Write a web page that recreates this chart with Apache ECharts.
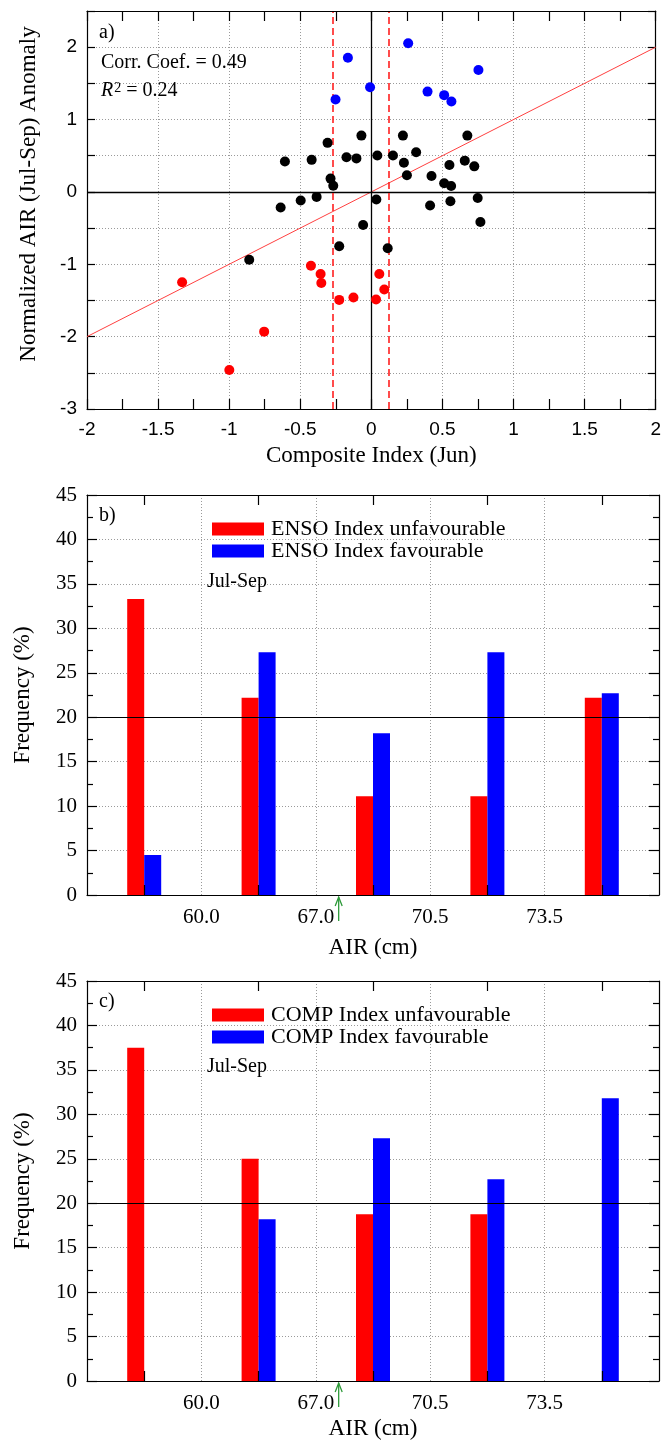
<!DOCTYPE html>
<html>
<head>
<meta charset="utf-8">
<script src="https://cdn.jsdelivr.net/npm/echarts@6/dist/echarts.min.js"></script>
<style>
html,body{margin:0;padding:0;background:#fff;}
#chart{width:664px;height:1441px;}
</style>
</head>
<body>
<div id="chart"></div>
<script>
// ---------- Panel a data ----------
const blackPoints = [
  [-0.608,0.421],[-0.420,0.443],[-0.308,0.678],[-0.287,0.184],[-0.268,0.086],
  [-0.175,0.480],[-0.105,0.463],[-0.070,0.778],[0.042,0.504],[0.152,0.504],
  [0.222,0.778],[0.229,0.403],[0.250,0.229],[0.315,0.549],[0.423,0.220],
  [0.512,0.119],[0.561,0.082],[0.549,0.371],[0.657,0.432],[0.724,0.353],
  [0.675,0.778],[-0.385,-0.069],[-0.497,-0.118],[-0.638,-0.215],[0.035,-0.104],
  [0.413,-0.187],[0.556,-0.128],[0.748,-0.083],[-0.058,-0.457],[-0.226,-0.751],
  [-0.859,-0.938],[0.115,-0.778],[0.767,-0.416]
];
const redPoints = [
  [-1.331,-1.249],[-0.754,-1.931],[-0.999,-2.461],[-0.425,-1.020],[-0.357,-1.135],
  [-0.352,-1.259],[-0.226,-1.492],[-0.126,-1.460],[0.056,-1.135],[0.091,-1.349],
  [0.033,-1.486]
];
const bluePoints = [
  [-0.165,1.853],[0.259,2.055],[-0.252,1.277],[-0.009,1.447],[0.395,1.386],
  [0.512,1.337],[0.563,1.249],[0.753,1.684]
];
const regressionLine = [[-2,-2],[2,2]];
const thresholds = [-0.268, 0.119];

// ---------- Panels b, c data ----------
const bins = ['<60.0','60.0-67.0','67.0-70.5','70.5-73.5','>73.5'];
const binEdgeLabels = ['60.0','67.0','70.5','73.5'];
const ensoUnfav = [33.3,22.2,11.1,11.1,22.2];
const ensoFav   = [4.5,27.3,18.2,27.3,22.7];
const compUnfav = [37.5,25.0,18.75,18.75,0];
const compFav   = [0,18.2,27.3,22.7,31.8];
const arrowBinPos = 2.2;

const SERIF = 'Liberation Serif';
const SANS = 'Liberation Sans';
const GRIDC = '#9a9a9a';
const dotted = {show:true, lineStyle:{color:GRIDC, type:[1,2], width:1}};
const blackLine = {show:true, onZero:false, lineStyle:{color:'#000', width:1.2}};
const tickStyle = {color:'#000', width:1.2};

function mirrorX(grid, type, extra){
  return Object.assign({
    gridIndex:grid, type:type, position:'top', z:10,
    axisLine:blackLine, axisLabel:{show:false}, splitLine:{show:false},
    axisTick:{show:true, inside:true, length:10, lineStyle:tickStyle}
  }, extra);
}

const catTick = {show:true, inside:true, alignWithLabel:true, length:10, lineStyle:tickStyle};

const xAxes = [
  // panel a
  {gridIndex:0, type:'value', position:'bottom', min:-2, max:2, interval:0.5,
   axisLine:blackLine,
   axisTick:{inside:true, length:10, lineStyle:tickStyle},
   minorTick:{show:true, splitNumber:2, length:10, lineStyle:tickStyle},
   axisLabel:{fontFamily:SANS, fontSize:19, color:'#000', margin:11},
   splitLine:dotted,
   name:'Composite Index (Jun)', nameLocation:'middle', nameGap:35,
   nameTextStyle:{fontFamily:SERIF, fontSize:23, color:'#000'}},
  mirrorX(0,'value',{min:-2,max:2,interval:0.5,
   minorTick:{show:true, splitNumber:2, length:10, lineStyle:tickStyle}}),
  // panel b
  {gridIndex:1, type:'category', data:bins, position:'bottom', z:10,
   axisLine:blackLine, axisLabel:{show:false}, splitLine:{show:false}, axisTick:catTick},
  mirrorX(1,'category',{data:bins, axisTick:catTick}),
  {gridIndex:1, type:'value', position:'bottom', min:0, max:5, interval:1,
   axisLine:{show:false, onZero:false}, axisTick:{show:false}, splitLine:dotted,
   axisLabel:{fontFamily:SERIF, fontSize:21, color:'#000', margin:12,
     formatter:v => (v>=1 && v<=4) ? binEdgeLabels[v-1] : ''},
   name:'AIR (cm)', nameLocation:'middle', nameGap:41,
   nameTextStyle:{fontFamily:SERIF, fontSize:23, color:'#000'}},
  // panel c
  {gridIndex:2, type:'category', data:bins, position:'bottom', z:10,
   axisLine:blackLine, axisLabel:{show:false}, splitLine:{show:false}, axisTick:catTick},
  mirrorX(2,'category',{data:bins, axisTick:catTick}),
  {gridIndex:2, type:'value', position:'bottom', min:0, max:5, interval:1,
   axisLine:{show:false, onZero:false}, axisTick:{show:false}, splitLine:dotted,
   axisLabel:{fontFamily:SERIF, fontSize:21, color:'#000', margin:12,
     formatter:v => (v>=1 && v<=4) ? binEdgeLabels[v-1] : ''},
   name:'AIR (cm)', nameLocation:'middle', nameGap:36,
   nameTextStyle:{fontFamily:SERIF, fontSize:23, color:'#000'}}
];

function freqY(grid){
  return {gridIndex:grid, type:'value', position:'left', min:0, max:45, interval:5,
   axisLine:blackLine,
   axisTick:{show:true, inside:true, length:10, lineStyle:tickStyle},
   minorTick:{show:true, splitNumber:2, length:6, lineStyle:tickStyle},
   axisLabel:{fontFamily:SERIF, fontSize:21, color:'#000', margin:10},
   splitLine:dotted,
   name:'Frequency (%)', nameLocation:'middle', nameGap:53,
   nameTextStyle:{fontFamily:SERIF, fontSize:23, color:'#000'}};
}
function freqYR(grid){
  return {gridIndex:grid, type:'value', position:'right', min:0, max:45, interval:5,
   axisLine:blackLine, axisLabel:{show:false}, splitLine:{show:false},
   axisTick:{show:true, inside:true, length:10, lineStyle:tickStyle},
   minorTick:{show:true, splitNumber:2, length:6, lineStyle:tickStyle}};
}

const yAxes = [
  {gridIndex:0, type:'value', position:'left', min:-3, max:2.5, interval:0.5,
   axisLine:blackLine,
   axisTick:{inside:true, length:8, lineStyle:tickStyle},
   axisLabel:{fontFamily:SANS, fontSize:19, color:'#000', margin:10,
     formatter:v => Number.isInteger(v) ? String(v) : ''},
   splitLine:dotted,
   name:'Normalized AIR (Jul-Sep) Anomaly', nameLocation:'middle', nameGap:47,
   nameTextStyle:{fontFamily:SERIF, fontSize:23, color:'#000', padding:[0,0,0,32]}},
  {gridIndex:0, type:'value', position:'right', min:-3, max:2.5, interval:0.5,
   axisLine:blackLine, axisLabel:{show:false}, splitLine:{show:false},
   axisTick:{inside:true, length:8, lineStyle:tickStyle}},
  freqY(1), freqYR(1), freqY(2), freqYR(2)
];

const noLbl = {show:false};
const series = [
  {type:'line', xAxisIndex:0, yAxisIndex:0, data:regressionLine, symbol:'none',
   lineStyle:{color:'#ff4040', width:1}, silent:true, z:2,
   markLine:{silent:true, symbol:'none', label:noLbl,
     lineStyle:{color:'#000', width:1.3, type:'solid'},
     data:[{yAxis:0},{xAxis:0}]}},
  {type:'line', xAxisIndex:0, yAxisIndex:0, data:[], symbol:'none', z:2,
   markLine:{silent:true, symbol:'none', label:noLbl,
     lineStyle:{color:'#ff2020', width:1.6, type:[7,4]},
     data:thresholds.map(t => ({xAxis:t}))}},
  {type:'scatter', xAxisIndex:0, yAxisIndex:0, data:blackPoints, symbolSize:10, itemStyle:{color:'#000', opacity:1}, z:5},
  {type:'scatter', xAxisIndex:0, yAxisIndex:0, data:redPoints, symbolSize:10, itemStyle:{color:'#ff0000', opacity:1}, z:5},
  {type:'scatter', xAxisIndex:0, yAxisIndex:0, data:bluePoints, symbolSize:10, itemStyle:{color:'#0000ff', opacity:1}, z:5},
  // panel b
  {name:'ENSO Index unfavourable', type:'bar', xAxisIndex:2, yAxisIndex:2, data:ensoUnfav,
   barWidth:17, barGap:'0%', itemStyle:{color:'#ff0000'},
   markLine:{silent:true, symbol:'none', label:noLbl, lineStyle:{color:'#000',width:1.2,type:'solid'}, data:[{yAxis:20}]}},
  {name:'ENSO Index favourable', type:'bar', xAxisIndex:2, yAxisIndex:2, data:ensoFav,
   barWidth:17, barGap:'0%', itemStyle:{color:'#0000ff'}},
  // panel c
  {name:'COMP Index unfavourable', type:'bar', xAxisIndex:5, yAxisIndex:4, data:compUnfav,
   barWidth:17, barGap:'0%', itemStyle:{color:'#ff0000'},
   markLine:{silent:true, symbol:'none', label:noLbl, lineStyle:{color:'#000',width:1.2,type:'solid'}, data:[{yAxis:20}]}},
  {name:'COMP Index favourable', type:'bar', xAxisIndex:5, yAxisIndex:4, data:compFav,
   barWidth:17, barGap:'0%', itemStyle:{color:'#0000ff'}}
];

function legendAt(top, names){
  return {left:207, top:top, orient:'vertical', icon:'rect', itemWidth:52, itemHeight:13,
    itemGap:0, selectedMode:false, data:names,
    textStyle:{fontFamily:SERIF, fontSize:22, color:'#000', padding:[0,0,0,2]}};
}

function txt(id, x, y, text, size){
  return {id:id, type:'text', z:100, style:{x:x, y:y, text:text,
    font: size + 'px "' + SERIF + '"', fill:'#000', textVerticalAlign:'middle'}};
}

const chart = echarts.init(document.getElementById('chart'), null, {renderer:'canvas'});
chart.setOption({
  animation:false,
  backgroundColor:'#fff',
  grid:[
    {left:87, top:11, width:571, height:398},
    {left:87, top:495, width:572, height:400},
    {left:87, top:981, width:572, height:400}
  ],
  xAxis:xAxes, yAxis:yAxes, series:series,
  legend:[legendAt(513,['ENSO Index unfavourable','ENSO Index favourable']),
          legendAt(999,['COMP Index unfavourable','COMP Index favourable'])]
});

// green arrows marking a reference AIR level, placed through the axis scale
function arrowAt(id, xAxisIndex, yAxisIndex){
  const p = chart.convertToPixel({xAxisIndex:xAxisIndex, yAxisIndex:yAxisIndex}, [arrowBinPos, 0]);
  const x = p[0], y = p[1];
  const st = {stroke:'#2e9a3a', lineWidth:1.3, fill:null};
  return {id:id, type:'group', children:[
    {type:'line', shape:{x1:x, y1:y+26, x2:x, y2:y+2}, style:st},
    {type:'polyline', shape:{points:[[x-3.5,y+11],[x,y+2],[x+3.5,y+11]]}, style:st}
  ]};
}

chart.setOption({graphic:[
  txt('ta',99,33,'a)',20),
  txt('tc',101,63,'Corr. Coef. = 0.49',20),
  {id:'tr', type:'text', z:100, style:{x:101, y:91, text:'{i|R}{s|2}{n| = 0.24}',
    textVerticalAlign:'middle',
    rich:{i:{fontFamily:SERIF, fontSize:20, fontStyle:'italic', color:'#000'},
          s:{fontFamily:SERIF, fontSize:14, verticalAlign:'top', color:'#000', padding:[0,0,6,1]},
          n:{fontFamily:SERIF, fontSize:20, color:'#000'}}}},
  txt('tb',99,516,'b)',20),
  txt('tj1',207,582,'Jul-Sep',20),
  txt('tcc',99,1002,'c)',20),
  txt('tj2',207,1067,'Jul-Sep',20),
  arrowAt('ar1',4,2),
  arrowAt('ar2',7,4)
]});
</script>
</body>
</html>
